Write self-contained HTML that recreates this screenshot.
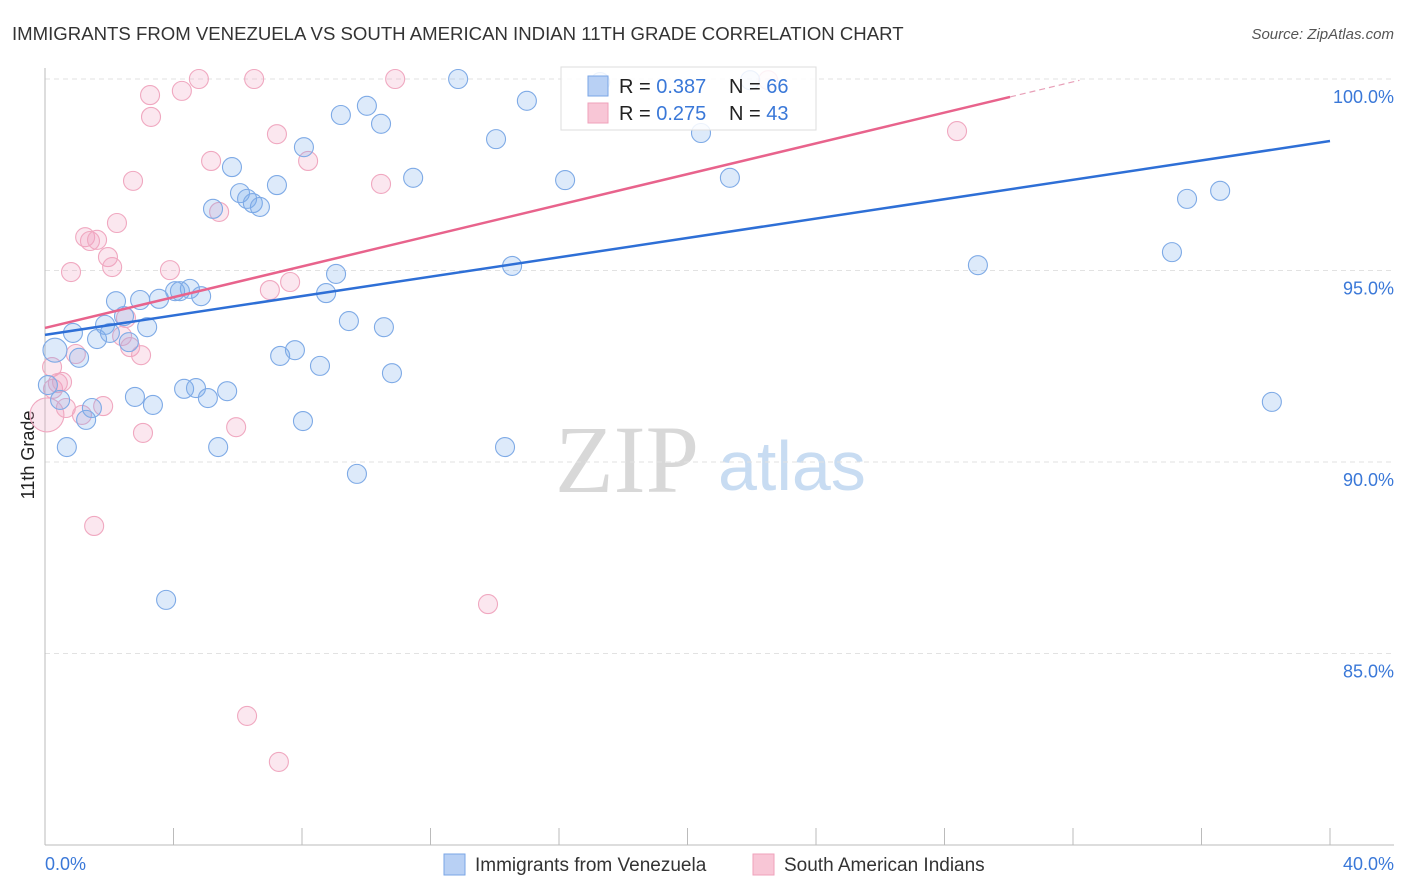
<!DOCTYPE html>
<html><head><meta charset="utf-8"><style>
body{margin:0;background:#fff;font-family:"Liberation Sans",sans-serif;}
</style></head><body>
<svg id="chart" width="1406" height="892" style="display:block">
<text x="12" y="40" font-size="18.6" fill="#333">IMMIGRANTS FROM VENEZUELA VS SOUTH AMERICAN INDIAN 11TH GRADE CORRELATION CHART</text>
<text x="1394" y="39" font-size="15" fill="#555" font-style="italic" text-anchor="end">Source: ZipAtlas.com</text>
<text transform="translate(34,455) rotate(-90)" font-size="18" fill="#222" text-anchor="middle">11th Grade</text>
<g>
<text x="555" y="492" font-family="Liberation Serif" font-size="96" fill="#d8d8d8">ZIP</text>
<text x="718" y="490" font-size="70" fill="#c8dcf2">atlas</text>
</g>
<g id="grid"></g><g id="axes"></g><g id="pts"></g><g id="lines"></g>
<g>
<rect x="561" y="67" width="255" height="63" fill="rgba(255,255,255,0.85)" stroke="#ddd"/>
<rect x="588" y="76" width="20" height="20" fill="#b8d0f4" stroke="#7aa6e6"/>
<rect x="588" y="103" width="20" height="20" fill="#f8c6d6" stroke="#efa2bb"/>
<text x="619" y="93" font-size="20" fill="#222">R = <tspan fill="#3a78d8">0.387</tspan></text>
<text x="729" y="93" font-size="20" fill="#222">N = <tspan fill="#3a78d8">66</tspan></text>
<text x="619" y="120" font-size="20" fill="#222">R = <tspan fill="#3a78d8">0.275</tspan></text>
<text x="729" y="120" font-size="20" fill="#222">N = <tspan fill="#3a78d8">43</tspan></text>
</g>
<g>
<rect x="444" y="854" width="21" height="21" fill="#b8d0f4" stroke="#7aa6e6"/>
<text x="475" y="871" font-size="19" fill="#333">Immigrants from Venezuela</text>
<rect x="753" y="854" width="21" height="21" fill="#f8c6d6" stroke="#efa2bb"/>
<text x="784" y="871" font-size="19" fill="#333">South American Indians</text>
</g>
<text x="45" y="870" font-size="18" fill="#3a78d8">0.0%</text>
<text x="1394" y="870" font-size="18" fill="#3a78d8" text-anchor="end">40.0%</text>
</svg>
<script>
const blueX=[.31,.09,.47,.87,1.06,.68,1.28,1.46,1.62,1.87,2.02,2.21,2.46,2.61,2.80,2.96,3.18,3.36,3.55,3.77,4.05,4.20,4.33,4.51,4.70,4.86,5.07,5.23,5.39,5.67,5.82,6.07,6.29,6.47,6.69,7.22,7.32,7.78,8.03,8.06,8.56,8.75,9.06,9.21,9.46,9.71,10.02,10.46,10.55,10.80,11.46,12.86,14.04,14.32,14.54,15.00,16.19,17.28,20.42,21.32,21.95,29.04,35.08,35.55,36.58,38.19];
const blueY=[92.92,92.01,91.62,93.37,92.72,90.39,91.10,91.41,93.21,93.58,93.37,94.20,93.81,93.13,91.70,94.23,93.52,91.49,94.26,86.40,94.46,94.46,91.91,94.52,91.93,94.33,91.67,96.61,90.39,91.85,97.70,97.02,96.87,96.76,96.66,97.23,92.77,92.92,91.07,98.22,92.51,94.41,94.91,99.06,93.68,89.69,99.30,98.83,93.52,92.32,97.42,100,98.43,90.39,95.12,99.43,97.36,99.92,98.59,97.42,99.97,95.14,95.48,96.87,97.08,91.57];
const pinkX=[.06,.22,.25,.40,.53,.65,.81,.96,1.15,1.25,1.40,1.53,1.62,1.81,1.96,2.09,2.24,2.40,2.52,2.65,2.74,2.99,3.05,3.27,3.30,3.89,4.26,4.79,5.17,5.42,5.95,6.29,6.51,7.00,7.22,7.28,7.63,8.19,10.46,10.90,13.79,22.51,28.39];
const pinkY=[91.23,92.48,91.91,92.06,92.09,91.41,94.96,92.82,91.23,95.87,95.77,88.33,95.80,91.46,95.35,95.09,96.24,93.29,93.76,93.00,97.34,92.79,90.76,99.58,99.01,95.01,99.69,100,97.86,96.53,90.91,83.37,100,94.49,98.56,82.17,94.70,97.86,97.26,100,86.29,99.97,98.64];
const trendIntercept=[93.32,93.50];
const trendSlope=[0.1265,0.2008];
const yTicks=[100,95,90,85];
const xTicks=[0,4,8,12,16,20,24,28,32,36,40];
const NS="http://www.w3.org/2000/svg";
const X=v=>45+v*32.125, Y=v=>79+(100-v)*38.3;
function mk(t,a,p){const e=document.createElementNS(NS,t);for(const k in a)e.setAttribute(k,a[k]);p.appendChild(e);return e;}
const grid=document.getElementById('grid'),axes=document.getElementById('axes'),pts=document.getElementById('pts'),lines=document.getElementById('lines');
yTicks.forEach(v=>{
 const l=mk('line',{x1:45,x2:1394,y1:Y(v),y2:Y(v),stroke:'#e2e2e2','stroke-dasharray':'5,4'},grid);
 
 
 const t=mk('text',{x:1394,y:Y(v)+24,'font-size':18,fill:'#3a78d8','text-anchor':'end'},grid);
 t.textContent=v.toFixed(1)+'%';
 
 
});
const ax=mk('line',{x1:45,x2:45,y1:68,y2:845,stroke:'#bbb'},axes);


const bx=mk('line',{x1:45,x2:1394,y1:845,y2:845,stroke:'#bbb'},axes);


xTicks.forEach(v=>{
 const t=mk('line',{x1:X(v),x2:X(v),y1:828,y2:845,stroke:'#bbb'},axes);
 
 
});
function dots(xs,ys,fill,stroke,name){
 xs.forEach((x,i)=>{
  const c=mk('circle',{cx:X(x),cy:Y(ys[i]),r:(name==='point-indian'&&i===0)?17:(i<1&&name==='point-venezuela')?12:9.5,fill:fill,stroke:stroke,'stroke-width':1.1},pts);
  
  
 });
}
dots(pinkX,pinkY,'rgba(240,160,190,0.25)','#f0a8c0','point-indian');
dots(blueX,blueY,'rgba(120,170,235,0.25)','#7eaae6','point-venezuela');
const b=mk('line',{x1:X(0),y1:Y(trendIntercept[0]),x2:X(40),y2:Y(trendIntercept[0]+trendSlope[0]*40),stroke:'#2e6fd6','stroke-width':2.5},lines);


const pe=30.04;
const p=mk('line',{x1:X(0),y1:Y(trendIntercept[1]),x2:X(pe),y2:Y(trendIntercept[1]+trendSlope[1]*pe),stroke:'#e8638c','stroke-width':2.5},lines);


const pd=mk('line',{x1:X(pe),y1:Y(trendIntercept[1]+trendSlope[1]*pe),x2:X(32.2),y2:Y(trendIntercept[1]+trendSlope[1]*32.2),stroke:'#e8a0b8','stroke-width':1.2,'stroke-dasharray':'6,4'},lines);


</script>
</body></html>
